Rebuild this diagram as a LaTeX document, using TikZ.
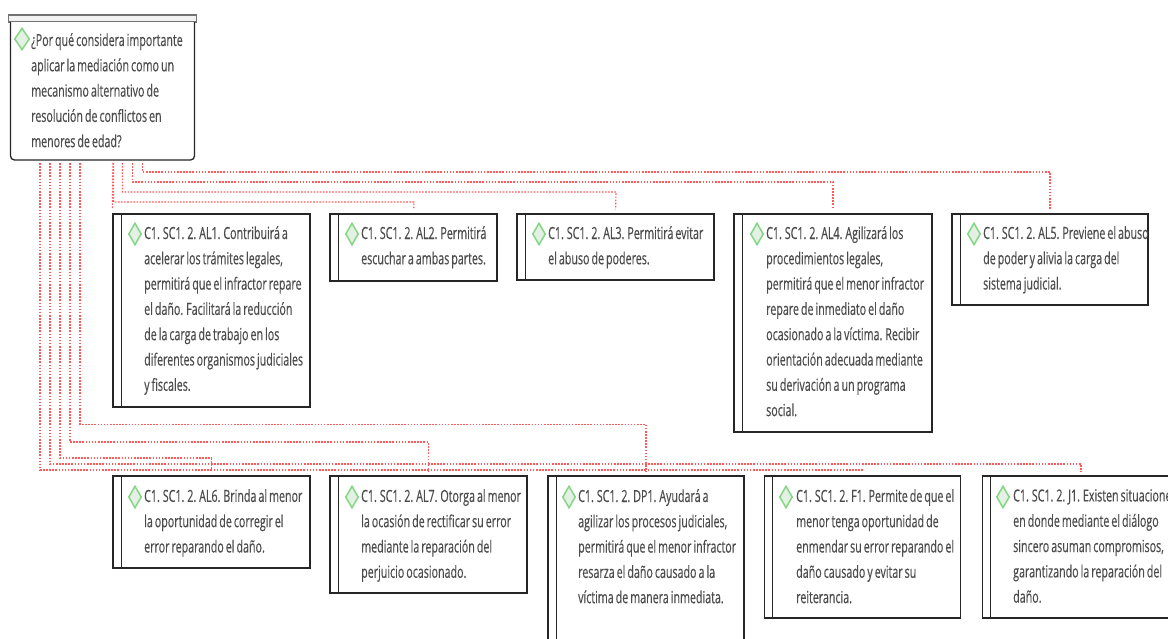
\documentclass[tikz,border=0pt]{standalone}
\usepackage{fontspec}
\usepackage{tikz}
\usetikzlibrary{positioning, shapes.geometric}
\newfontfamily\boxfont[FakeStretch=0.64,FakeBold=0.35,WordSpace=0.72]{Open Sans}

\begin{document}
\begin{tikzpicture}[
                x=1pt, y=-1pt,
                card/.style={rectangle, draw=black!85, line width=1.3pt, fill=white, inner sep=0pt},
                bar/.style={draw=black!85, line width=1pt},
                cardtext/.style={anchor=north west, align=left, inner sep=0pt, text=black!70, font=\boxfont\fontsize{16.7}{25.3}\selectfont},
                gem/.style={diamond, draw=green!50!gray!65, fill=green!25!gray!16, line width=1.5pt, inner sep=0pt, minimum width=13pt, minimum height=22pt},
                link/.style={draw=red!65, line width=1.2pt, dash pattern=on 1.6pt off 1.5pt, shorten <=3pt, shorten >=4pt}
                ]
                \clip (0,0) rectangle (1168,638);
                \fill[white] (0,0) rectangle (1168,638);

                % Nodo principal
                \node[rectangle, draw=black!55, line width=1.4pt, fill=black!5, minimum width=188pt, minimum height=7pt, inner sep=0pt] (roothead) at (102.5,18.5) {};
                \draw[card, rounded corners=4pt] (10.5,22) -- (10.5,160) -- (194.5,160) -- (194.5,22);
                \coordinate (rootbase) at (102.5,160);
                \node[gem, minimum width=15pt] (rootgem) at (22,39) {};
                \node[cardtext] (roottext) at (31,33) {¿Por qué considera importante\\aplicar la mediación como un\\mecanismo alternativo de\\resolución de conflictos en\\menores de edad?};

                % Primera fila
                \node[card, minimum width=197pt, minimum height=193pt] (al1) at (211.5,310.5) {};
                \node[card, minimum width=167pt, minimum height=67pt] (al2) at (413.5,247.5) {};
                \node[card, minimum width=197pt, minimum height=66pt] (al3) at (615.5,247) {};
                \node[card, minimum width=198pt, minimum height=218pt] (al4) at (833,323) {};
                \node[card, minimum width=196pt, minimum height=91pt] (al5) at (1050,259.5) {};

                % Segunda fila
                \node[card, minimum width=197pt, minimum height=92pt] (al6) at (211.5,522) {};
                \node[card, minimum width=197pt, minimum height=117pt] (al7) at (428.5,534.5) {};
                \node[card, minimum width=196pt, minimum height=190pt] (dp1) at (646,571) {};
                \node[card, minimum width=196pt, minimum height=142pt] (f1) at (862.5,547) {};
                \node[card, minimum width=197pt, minimum height=142pt] (j1) at (1081,547) {};

                % Barras laterales
                \draw[bar] ([xshift=9pt]al1.north west) -- ([xshift=9pt]al1.south west);
                \draw[bar] ([xshift=9pt]al2.north west) -- ([xshift=9pt]al2.south west);
                \draw[bar] ([xshift=9pt]al3.north west) -- ([xshift=9pt]al3.south west);
                \draw[bar] ([xshift=9pt]al4.north west) -- ([xshift=9pt]al4.south west);
                \draw[bar] ([xshift=9pt]al5.north west) -- ([xshift=9pt]al5.south west);
                \draw[bar] ([xshift=9pt]al6.north west) -- ([xshift=9pt]al6.south west);
                \draw[bar] ([xshift=9pt]al7.north west) -- ([xshift=9pt]al7.south west);
                \draw[bar] ([xshift=9pt]dp1.north west) -- ([xshift=9pt]dp1.south west);
                \draw[bar] ([xshift=9pt]f1.north west) -- ([xshift=9pt]f1.south west);
                \draw[bar] ([xshift=9pt]j1.north west) -- ([xshift=9pt]j1.south west);

                % Rombos
                \node[gem] (al1gem) at (135,234) {};
                \node[gem] (al2gem) at (352,234) {};
                \node[gem] (al3gem) at (539,234) {};
                \node[gem] (al4gem) at (757,234) {};
                \node[gem] (al5gem) at (974,234) {};
                \node[gem] (al6gem) at (135,497) {};
                \node[gem] (al7gem) at (352,497) {};
                \node[gem] (dp1gem) at (569,497) {};
                \node[gem] (f1gem) at (786,497) {};
                \node[gem] (j1gem) at (1003,497) {};

                % Textos
                \node[cardtext] (al1text) at (144,226) {C1. SC1. 2. AL1. Contribuirá a\\acelerar los trámites legales,\\permitirá que el infractor repare\\el daño. Facilitará la reducción\\de la carga de trabajo en los\\diferentes organismos judiciales\\y fiscales.};
                \node[cardtext] (al2text) at (361,226) {C1. SC1. 2. AL2. Permitirá\\escuchar a ambas partes.};
                \node[cardtext] (al3text) at (548,226) {C1. SC1. 2. AL3. Permitirá evitar\\el abuso de poderes.};
                \node[cardtext] (al4text) at (766,226) {C1. SC1. 2. AL4. Agilizará los\\procedimientos legales,\\permitirá que el menor infractor\\repare de inmediato el daño\\ocasionado a la víctima. Recibir\\orientación adecuada mediante\\su derivación a un programa\\social.};
                \node[cardtext] (al5text) at (983,226) {C1. SC1. 2. AL5. Previene el abuso\\de poder y alivia la carga del\\sistema judicial.};
                \node[cardtext] (al6text) at (144,489) {C1. SC1. 2. AL6. Brinda al menor\\la oportunidad de corregir el\\error reparando el daño.};
                \node[cardtext] (al7text) at (361,489) {C1. SC1. 2. AL7. Otorga al menor\\la ocasión de rectificar su error\\mediante la reparación del\\perjuicio ocasionado.};
                \node[cardtext] (dp1text) at (578,489) {C1. SC1. 2. DP1. Ayudará a\\agilizar los procesos judiciales,\\permitirá que el menor infractor\\resarza el daño causado a la\\víctima de manera inmediata.};
                \node[cardtext] (f1text) at (796,489) {C1. SC1. 2. F1. Permite de que el\\menor tenga oportunidad de\\enmendar su error reparando el\\daño causado y evitar su\\reiterancia.};
                \node[cardtext] (j1text) at (1013,489) {C1. SC1. 2. J1. Existen situaciones\\en donde mediante el diálogo\\sincero asuman compromisos,\\garantizando la reparación del\\daño.};

                % Conectores de arriba
                \draw[link] ([xshift=10.5pt]rootbase) -- (al1.north west);
                \draw[link] ([xshift=11pt]rootbase) |- (414,202) -- (al2.north);
                \draw[link] ([xshift=20pt]rootbase) |- (616,192) -- (al3.north);
                \draw[link] ([xshift=30pt]rootbase) |- (833,182) -- (al4.north);
                \draw[link] ([xshift=40pt]rootbase) |- (1050,172) -- (al5.north);

                % Conectores de abajo
                \draw[link] ([xshift=-22.5pt]rootbase) |- (646,424.5) -- (dp1.north);
                \draw[link] ([xshift=-32.5pt]rootbase) |- (428.5,442) -- (al7.north);
                \draw[link] ([xshift=-42.5pt]rootbase) |- (211.5,458) -- (al6.north);
                \draw[link] ([xshift=-52.5pt]rootbase) |- (1081,464) -- (j1.north);
                \draw[link] ([xshift=-62.5pt]rootbase) |- (862.5,470) -- (f1.north);
                \end{tikzpicture}
\end{document}
